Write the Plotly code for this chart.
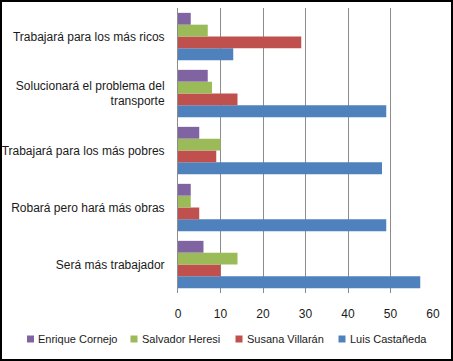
import plotly.graph_objects as go

categories = [
    "Será más trabajador",
    "Robará pero hará más obras",
    "Trabajará para los más pobres",
    "Solucionará el problema del<br>transporte",
    "Trabajará para los más ricos",
]
luis_castaneda = [57, 49, 48, 49, 13]
susana_villaran = [10, 5, 9, 14, 29]
salvador_heresi = [14, 3, 10, 8, 7]
enrique_cornejo = [6, 3, 5, 7, 3]
x_ticks = [0, 10, 20, 30, 40, 50, 60]

series = [
    ("Luis Castañeda", luis_castaneda, "#4F81BD"),
    ("Susana Villarán", susana_villaran, "#C0504D"),
    ("Salvador Heresi", salvador_heresi, "#9BBB59"),
    ("Enrique Cornejo", enrique_cornejo, "#8064A2"),
]

fig = go.Figure()
for name, vals, col in series:
    fig.add_trace(go.Bar(y=categories, x=vals, name=name, orientation="h",
                         marker=dict(color=col, line=dict(width=0))))

W, H = 453, 361
ml, mr, mt, mb = 178, 20, 8, 68
pw, ph = W - ml - mr, H - mt - mb

def px_x(p):
    return (p - ml) / pw

def px_y(p):
    return (H - mb - p) / ph

# custom legend (legend order: reverse of trace order)
legend_left = [27, 130.5, 235.5, 338.5]
legend_y = 339
shapes = [dict(type="rect", xref="paper", yref="paper",
               x0=px_x(1), x1=px_x(W - 1), y0=px_y(H - 1), y1=px_y(1),
               line=dict(color="#000000", width=2), layer="above")]
annotations = []
for (name, _, col), lx in zip(series[::-1], legend_left):
    shapes.append(dict(type="rect", xref="paper", yref="paper",
                       x0=px_x(lx), x1=px_x(lx + 7),
                       y0=px_y(legend_y + 3.5), y1=px_y(legend_y - 3.5),
                       fillcolor=col, line=dict(width=0)))
    annotations.append(dict(text=name, xref="paper", yref="paper",
                            x=px_x(lx + 9), y=px_y(legend_y), xanchor="left",
                            yanchor="middle", showarrow=False,
                            font=dict(size=11, color="#1a1a1a")))

fig.update_layout(
    width=W, height=H,
    margin=dict(l=ml, r=mr, t=mt, b=mb, autoexpand=False),
    barmode="group", bargap=0.17, bargroupgap=0,
    paper_bgcolor="white", plot_bgcolor="white",
    font=dict(family="Liberation Sans, Arial, sans-serif", size=12, color="#1a1a1a"),
    xaxis=dict(range=[0, 60], tickvals=x_ticks, showgrid=True, gridcolor="#8c8c8c",
               gridwidth=1, zeroline=False, showline=False, ticks="",
               ticklabelstandoff=12, fixedrange=True),
    yaxis=dict(showgrid=False, zeroline=False, showline=True, linecolor="#8c8c8c",
               linewidth=1, ticks="", ticklabelstandoff=10, fixedrange=True),
    showlegend=False,
    shapes=shapes,
    annotations=annotations,
)

fig.write_html("out.html", config={"displayModeBar": False},
               post_script="document.body.style.margin='0';")
